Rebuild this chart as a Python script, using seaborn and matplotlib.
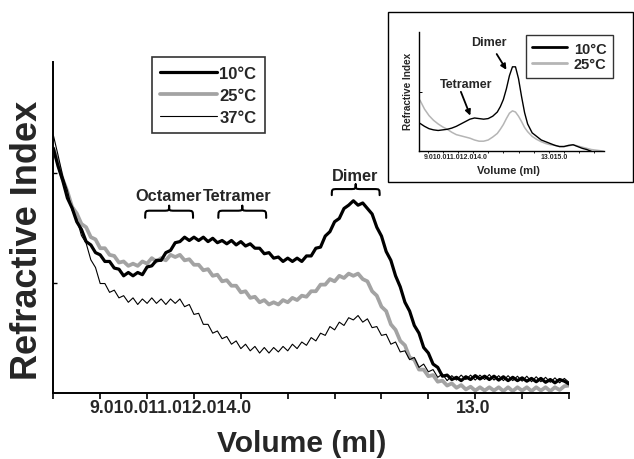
import numpy as np
import pandas as pd
import matplotlib
matplotlib.use("Agg")
import matplotlib.pyplot as plt
import seaborn as sns
from matplotlib.path import Path
from matplotlib.patches import PathPatch, Rectangle

# ---------------- data ----------------
volume = np.round(np.arange(8.5, 14.0001, 0.05), 2)

ri_10C = [2.22, 2.06, 1.93, 1.77, 1.68, 1.555, 1.485, 1.375, 1.345, 1.275,
          1.255, 1.195, 1.195, 1.135, 1.125, 1.065, 1.095, 1.065, 1.095, 1.075,
          1.145, 1.155, 1.205, 1.205, 1.275, 1.295, 1.365, 1.375, 1.415, 1.385,
          1.415, 1.385, 1.415, 1.375, 1.405, 1.365, 1.385, 1.355, 1.385, 1.345,
          1.375, 1.335, 1.355, 1.315, 1.315, 1.265, 1.275, 1.225, 1.235, 1.195,
          1.225, 1.195, 1.225, 1.195, 1.245, 1.245, 1.315, 1.325, 1.425, 1.465,
          1.555, 1.585, 1.675, 1.705, 1.745, 1.705, 1.725, 1.675, 1.625, 1.505,
          1.425, 1.285, 1.205, 1.065, 0.965, 0.825, 0.745, 0.615, 0.545, 0.415,
          0.365, 0.265, 0.235, 0.155, 0.165, 0.125, 0.145, 0.115, 0.15, 0.125,
          0.16, 0.13, 0.155, 0.125, 0.155, 0.12, 0.15, 0.115, 0.145, 0.115,
          0.14, 0.11, 0.135, 0.105, 0.135, 0.10, 0.125, 0.095, 0.125, 0.11,
          0.085]

ri_25C = [2.22, 2.09, 1.94, 1.83, 1.69, 1.63, 1.535, 1.505, 1.415, 1.395,
          1.315, 1.315, 1.255, 1.245, 1.185, 1.195, 1.155, 1.175, 1.155, 1.195,
          1.175, 1.225, 1.195, 1.225, 1.205, 1.255, 1.235, 1.255, 1.205, 1.215,
          1.165, 1.165, 1.115, 1.125, 1.065, 1.075, 1.015, 1.025, 0.975, 0.975,
          0.915, 0.925, 0.865, 0.875, 0.825, 0.845, 0.805, 0.825, 0.805, 0.845,
          0.825, 0.865, 0.845, 0.885, 0.875, 0.925, 0.925, 0.985, 0.985, 1.035,
          1.015, 1.065, 1.045, 1.085, 1.065, 1.085, 1.035, 1.015, 0.925, 0.885,
          0.785, 0.745, 0.625, 0.575, 0.475, 0.435, 0.325, 0.305, 0.215, 0.215,
          0.155, 0.165, 0.105, 0.115, 0.07, 0.09, 0.05, 0.075, 0.035, 0.06,
          0.025, 0.055, 0.025, 0.055, 0.025, 0.055, 0.02, 0.055, 0.02, 0.055,
          0.025, 0.055, 0.02, 0.055, 0.025, 0.055, 0.02, 0.055, 0.03, 0.065,
          0.07]

ri_37C = [2.34, 2.16, 1.97, 1.84, 1.66, 1.58, 1.43, 1.36, 1.21, 1.14,
          0.995, 0.995, 0.915, 0.935, 0.865, 0.885, 0.825, 0.865, 0.805, 0.855,
          0.815, 0.865, 0.815, 0.855, 0.805, 0.855, 0.815, 0.855, 0.785, 0.805,
          0.715, 0.725, 0.625, 0.625, 0.545, 0.565, 0.495, 0.515, 0.445, 0.475,
          0.405, 0.445, 0.385, 0.425, 0.365, 0.415, 0.365, 0.415, 0.375, 0.425,
          0.385, 0.445, 0.405, 0.465, 0.435, 0.505, 0.475, 0.545, 0.525, 0.605,
          0.575, 0.645, 0.615, 0.685, 0.665, 0.705, 0.645, 0.675, 0.595, 0.605,
          0.525, 0.535, 0.445, 0.465, 0.375, 0.385, 0.305, 0.325, 0.235, 0.265,
          0.195, 0.215, 0.145, 0.175, 0.115, 0.16, 0.12, 0.165, 0.125, 0.165,
          0.12, 0.165, 0.125, 0.17, 0.12, 0.16, 0.115, 0.16, 0.115, 0.155,
          0.11, 0.155, 0.105, 0.15, 0.105, 0.145, 0.10, 0.14, 0.095, 0.135,
          0.10]

series_labels = ["10\u00b0C", "25\u00b0C", "37\u00b0C"]

# x-axis tick marks and the (overlapping) tick label strings of the original
main_tick_marks = [8.5, 9.0, 9.5, 10.0, 10.5, 11.0, 11.5, 12.0, 12.5, 13.0, 13.5, 14.0]
main_tick_label_pos = [9.752, 12.975]
main_tick_labels = ["9.010.011.012.014.0", "13.0"]

# peak annotations (braces)
brace_labels = ["Octamer", "Tetramer", "Dimer"]
brace_x0 = [9.48, 10.26, 11.47]
brace_x1 = [9.99, 10.77, 11.98]
brace_yend = [1.59, 1.59, 1.796]
brace_ybody = [1.655, 1.655, 1.851]
brace_ytip = [1.70, 1.70, 1.894]
brace_text_x = [9.73, 10.46, 11.72]
brace_text_y = [1.796, 1.796, 1.978]

# inset data
inset_vol_10C = [8.75, 8.9, 9.05, 9.2, 9.35, 9.5, 9.65, 9.8, 9.95, 10.1, 10.25, 10.4,
                 10.55, 10.7, 10.85, 11.0, 11.15, 11.3, 11.4, 11.5, 11.6, 11.7, 11.8,
                 11.9, 12.0, 12.1, 12.2, 12.3, 12.45, 12.6, 12.75, 12.9, 13.05, 13.2,
                 13.35, 13.5, 13.65, 13.8, 13.95, 14.1, 14.25, 14.4]
inset_ri_10C = [0.47, 0.42, 0.38, 0.36, 0.35, 0.36, 0.37, 0.39, 0.42, 0.46, 0.50, 0.54,
                0.56, 0.55, 0.54, 0.55, 0.59, 0.66, 0.75, 0.87, 1.05, 1.27, 1.42,
                1.42, 1.22, 0.92, 0.65, 0.46, 0.31, 0.25, 0.19, 0.16, 0.13, 0.10,
                0.08, 0.08, 0.10, 0.11, 0.08, 0.05, 0.03, 0.0]
inset_vol_25C = [8.75, 8.9, 9.05, 9.2, 9.35, 9.5, 9.65, 9.8, 9.95, 10.1, 10.25, 10.4,
                 10.55, 10.7, 10.85, 11.0, 11.15, 11.3, 11.4, 11.5, 11.6, 11.7, 11.8,
                 11.9, 12.0, 12.1, 12.2, 12.3, 12.45, 12.6, 12.75, 12.9, 13.05, 13.2,
                 13.35, 13.5, 13.65, 13.8, 13.95, 14.1, 14.25, 14.4, 14.55, 14.7, 14.8]
inset_ri_25C = [0.86, 0.71, 0.60, 0.52, 0.46, 0.41, 0.37, 0.32, 0.28, 0.26, 0.24, 0.22,
                0.19, 0.17, 0.17, 0.19, 0.24, 0.30, 0.37, 0.45, 0.55, 0.64, 0.68,
                0.66, 0.59, 0.50, 0.40, 0.33, 0.25, 0.20, 0.16, 0.13, 0.11, 0.10,
                0.08, 0.08, 0.09, 0.11, 0.09, 0.07, 0.05, 0.03, 0.02, 0.01, 0.0]
inset_labels = ["10\u00b0C", "25\u00b0C"]
inset_tick_marks = [9.0, 9.5, 10.0, 10.5, 11.0, 11.5, 12.0, 12.5, 13.0, 13.5, 14.0, 14.5]
inset_tick_label_pos = [9.92, 13.17]
inset_tick_labels = ["9.010.011.012.014.0", "13.015.0"]

# ---------------- style ----------------
sns.set_style("ticks")
plt.rcParams["font.family"] = ["Liberation Sans", "DejaVu Sans"]
plt.rcParams["font.weight"] = "bold"

GRAY = "#a3a3a3"
GRAY_INSET = "#b5b5b5"

fig = plt.figure(figsize=(6.34, 4.60), dpi=100)
fig.patch.set_facecolor("white")

# ---------------- main axes ----------------
ax = fig.add_axes([0.0841, 0.1428, 0.8134, 0.7196])
ax.xaxis.remove_overlapping_locs = False
df = pd.DataFrame({"volume": np.tile(volume, 3),
                   "ri": ri_10C + ri_25C + ri_37C,
                   "temp": np.repeat(series_labels, len(volume))})

styles = {series_labels[0]: dict(color="black", lw=2.3, z=4),
          series_labels[1]: dict(color=GRAY, lw=2.7, z=2),
          series_labels[2]: dict(color="black", lw=0.8, z=5)}
handles = {}
for lab in [series_labels[1], series_labels[0], series_labels[2]]:
    st = styles[lab]
    sub = df[df["temp"] == lab]
    sns.lineplot(data=sub, x="volume", y="ri", ax=ax, color=st["color"],
                 lw=st["lw"], sort=False, estimator=None, zorder=st["z"], legend=False)
    handles[lab] = ax.lines[-1]

ax.set_xlim(8.5, 14.0)
ax.set_ylim(0, 3.0)
for s in ["top", "right"]:
    ax.spines[s].set_visible(False)
for s in ["left", "bottom"]:
    ax.spines[s].set_linewidth(1.4)
    ax.spines[s].set_color("black")

ax.set_xticks(main_tick_marks)
ax.set_xticklabels([""] * len(main_tick_marks))
ax.set_xticks(main_tick_label_pos, minor=True)
ax.set_xticklabels(main_tick_labels, minor=True, fontsize=12.7, fontweight="bold")
ax.tick_params(axis="x", which="major", direction="out", length=4, width=1.2, color="black")
ax.tick_params(axis="x", which="minor", length=0, pad=4)
ax.set_yticks([1, 2])
ax.set_yticklabels([])
ax.tick_params(axis="y", which="major", direction="in", length=3, width=1.0, color="black")

ax.set_xlabel("Volume (ml)", fontsize=21.6, fontweight="bold", va="center")
ax.xaxis.set_label_coords(0.4815, -0.150)
ax.set_ylabel("Refractive Index", fontsize=26, fontweight="bold", va="center")
ax.yaxis.set_label_coords(-0.0494, 0.4637)


def draw_brace(axis, x0, x1, ye, yb, yt, lw=1.5):
    w = x1 - x0
    xm = (x0 + x1) / 2
    r = w * 0.12
    verts = [(x0, ye), (x0, yb), (x0, yb), (x0 + r, yb),
             (xm - r, yb),
             (xm, yb), (xm, yb), (xm, yt),
             (xm, yb), (xm, yb), (xm + r, yb),
             (x1 - r, yb),
             (x1, yb), (x1, yb), (x1, ye)]
    codes = [Path.MOVETO, Path.CURVE4, Path.CURVE4, Path.CURVE4,
             Path.LINETO,
             Path.CURVE4, Path.CURVE4, Path.CURVE4,
             Path.CURVE4, Path.CURVE4, Path.CURVE4,
             Path.LINETO,
             Path.CURVE4, Path.CURVE4, Path.CURVE4]
    axis.add_patch(PathPatch(Path(verts, codes), fill=False, lw=lw,
                             edgecolor="black", capstyle="round", joinstyle="round",
                             zorder=6))


for lab, x0, x1, ye, yb, yt, tx, ty in zip(brace_labels, brace_x0, brace_x1, brace_yend,
                                           brace_ybody, brace_ytip, brace_text_x, brace_text_y):
    draw_brace(ax, x0, x1, ye, yb, yt)
    ax.text(tx, ty, lab, ha="center", va="center", fontsize=11.8, fontweight="bold")

leg = ax.legend([handles[l] for l in series_labels], series_labels,
                loc="upper left", bbox_to_anchor=(0.2393, 0.8733),
                bbox_transform=fig.transFigure, borderaxespad=0,
                prop={"weight": "bold", "size": 12},
                handlelength=3.4, handletextpad=0.15, borderpad=0.5,
                labelspacing=0.42, frameon=True, fancybox=False)
leg.get_frame().set_edgecolor("black")
leg.get_frame().set_linewidth(1.2)

# ---------------- inset ----------------
fig.add_artist(Rectangle((0.6123, 0.6015), 0.3858, 0.3696, transform=fig.transFigure,
                         fill=False, edgecolor="black", lw=1.0))
ax2 = fig.add_axes([0.6614, 0.6689, 0.2909, 0.2587])
ax2.xaxis.remove_overlapping_locs = False
ax2.set_facecolor("white")
sns.lineplot(x=inset_vol_25C, y=inset_ri_25C, ax=ax2, color=GRAY_INSET, lw=1.1,
             sort=False, estimator=None, legend=False)
h25 = ax2.lines[-1]
sns.lineplot(x=inset_vol_10C, y=inset_ri_10C, ax=ax2, color="black", lw=1.0,
             sort=False, estimator=None, legend=False)
h10 = ax2.lines[-1]
ax2.set_xlim(8.73, 14.81)
ax2.set_ylim(0, 2)
for s in ["top", "right"]:
    ax2.spines[s].set_visible(False)
for s in ["left", "bottom"]:
    ax2.spines[s].set_linewidth(1.0)
    ax2.spines[s].set_color("black")
ax2.set_xticks(inset_tick_marks)
ax2.set_xticklabels([""] * len(inset_tick_marks))
ax2.set_xticks(inset_tick_label_pos, minor=True)
ax2.set_xticklabels(inset_tick_labels, minor=True, fontsize=5, fontweight="bold")
ax2.tick_params(axis="x", which="major", direction="out", length=1.5, width=0.6, color="black")
ax2.tick_params(axis="x", which="minor", length=0, pad=1.5)
ax2.set_yticks([1])
ax2.set_yticklabels([])
ax2.tick_params(axis="y", direction="in", length=2, width=0.7, color="black")
ax2.set_xlabel("Volume (ml)", fontsize=8, fontweight="bold", va="center")
ax2.xaxis.set_label_coords(0.484, -0.155)
ax2.set_ylabel("Refractive Index", fontsize=7.2, fontweight="bold", va="center")
ax2.yaxis.set_label_coords(-0.059, 0.509)

ax2.text(11.02, 1.83, "Dimer", ha="center", va="center", fontsize=9, fontweight="bold")
ax2.text(10.28, 1.13, "Tetramer", ha="center", va="center", fontsize=9, fontweight="bold")
arrow = dict(arrowstyle="-|>", color="black", lw=1.3, mutation_scale=8, shrinkA=0, shrinkB=0)
ax2.annotate("", xy=(11.60, 1.37), xytext=(11.28, 1.635), arrowprops=arrow)
ax2.annotate("", xy=(10.41, 0.60), xytext=(10.10, 1.00), arrowprops=arrow)

leg2 = ax2.legend([h10, h25], inset_labels, loc="upper left",
                  bbox_to_anchor=(0.8292, 0.9217), bbox_transform=fig.transFigure,
                  borderaxespad=0, prop={"weight": "bold", "size": 10.5},
                  handlelength=2.35, handletextpad=0.5, borderpad=0.45,
                  labelspacing=0.1, frameon=True, fancybox=False)
leg2.get_frame().set_edgecolor("black")
leg2.get_frame().set_linewidth(1.0)
for line in leg2.get_lines():
    line.set_linewidth(2.0)

fig.savefig("out.png", dpi=100, facecolor="white")
